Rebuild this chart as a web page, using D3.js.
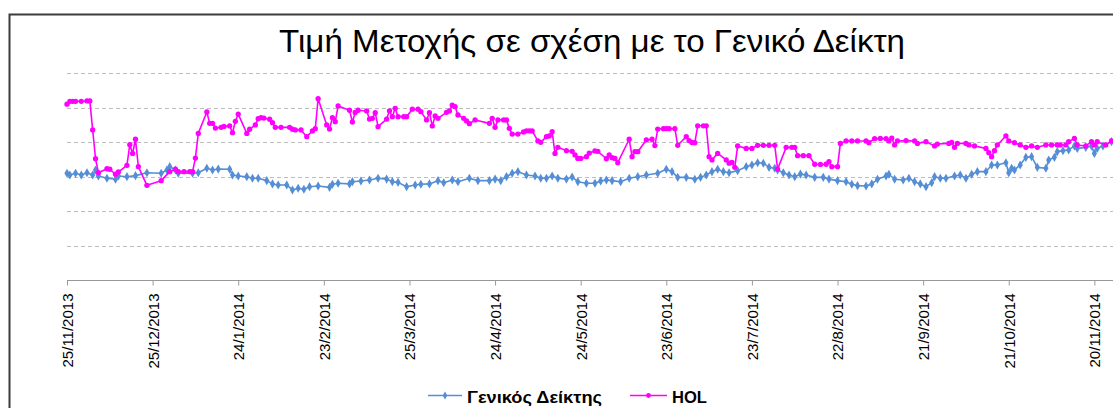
<!DOCTYPE html>
<html>
<head>
<meta charset="utf-8">
<script src="https://cdn.jsdelivr.net/npm/d3@7"></script>
<style>
  html, body { margin: 0; padding: 0; background: #fff; }
  svg { display: block; }
  text { font-family: "Liberation Sans", Arial, sans-serif; }
</style>
</head>
<body>
<svg id="chart" width="1113" height="408"></svg>
<script>
// ---------------- DATA ----------------
const title = "Τιμή Μετοχής σε σχέση με το Γενικό Δείκτη";
const seriesNames = ["Γενικός Δείκτης", "HOL"];
const startDate = "25/11/2013";
const endDate = "26/11/2014";
const tickLabels = ["25/11/2013","25/12/2013","24/1/2014","23/2/2014","25/3/2014","24/4/2014",
  "24/5/2014","23/6/2014","23/7/2014","22/8/2014","21/9/2014","21/10/2014","20/11/2014"];
const gridValues = [20, 40, 60, 80, 100, 120];
const yDomain = [0, 120];

// [days since 25/11/2013, value]
const genIndex = [
[0,61.9],[1,60.9],[3,61.9],[5,60.9],[7,62.2],[9,60.9],[10,63.8],[11,60.3],[14,59.0],[17,58.4],
[18,60.3],[21,59.9],[24,60.5],[28,62.2],[33,61.9],[35,63.8],[36,65.7],[38,63.8],[39,61.9],[44,61.9],
[46,62.2],[49,64.8],[51,63.8],[53,64.3],[57,64.2],[58,60.9],[60,60.3],[63,59.9],[65,59.0],[67,59.0],
[70,57.6],[72,55.7],[74,55.1],[77,55.1],[79,52.2],[81,53.2],[83,52.6],[85,54.1],[88,54.5],[92,53.7],
[93,55.5],[95,56.1],[99,55.7],[100,57.0],[103,57.4],[106,58.0],[109,59.0],[112,58.5],[114,57.0],[116,56.6],
[119,54.1],[122,55.1],[124,55.5],[127,55.7],[130,57.6],[132,56.4],[135,58.0],[137,57.0],[141,59.0],[144,57.6],
[148,57.6],[150,58.5],[152,57.6],[154,59.9],[156,61.9],[158,62.8],[161,60.9],[164,60.3],[166,59.0],[168,59.0],
[170,60.3],[172,59.0],[175,58.5],[177,59.7],[179,57.0],[182,56.1],[185,56.1],[187,57.4],[189,58.0],[191,57.6],
[194,57.0],[197,59.0],[200,59.9],[203,60.9],[207,61.9],[210,64.2],[212,62.8],[214,59.5],[217,59.5],[220,58.4],
[222,59.5],[224,60.9],[226,62.8],[228,64.2],[230,62.8],[232,62.2],[235,63.4],[238,65.7],[240,66.7],[242,68.0],
[244,67.7],[246,65.3],[248,64.8],[249,63.8],[251,62.2],[253,60.9],[255,59.9],[257,61.4],[259,60.9],[262,59.5],
[265,59.5],[267,58.5],[270,57.6],[273,57.0],[275,55.5],[277,54.7],[280,54.5],[282,55.7],[284,58.4],[287,60.3],
[288,61.3],[290,58.4],[293,58.0],[295,59.0],[297,57.0],[299,55.7],[301,54.1],[303,56.4],[304,59.9],[306,59.0],
[308,59.0],[311,60.3],[313,60.9],[315,59.0],[317,61.3],[319,62.8],[322,62.8],[324,66.7],[326,66.7],[329,68.0],
[330,62.2],[331,64.8],[332,63.8],[334,66.7],[336,71.1],[338,71.5],[340,65.3],[343,64.8],[344,69.6],[346,71.1],
[347,74.4],[349,75.0],[351,75.4],[353,77.7],[354,76.3],[357,76.9],[359,77.7],[360,73.4],[361,76.3],[363,77.7],
[366,80.2]
];

const hol = [
[0,101.9],[1,103.6],[2,103.6],[3,103.6],[5,103.6],[7,103.8],[8,103.8],[9,87.0],[10,70.3],[11,62.2],
[14,64.5],[15,64.2],[17,61.3],[18,62.6],[21,66.5],[22,78.4],[23,73.4],[24,81.6],[25,65.7],[28,54.9],
[33,57.6],[36,62.8],[38,64.3],[39,62.8],[41,62.8],[43,62.8],[44,62.8],[45,70.7],[46,85.0],[49,97.4],
[50,90.8],[51,90.8],[52,88.1],[54,88.5],[55,89.0],[57,89.3],[58,85.4],[59,92.0],[60,96.2],[63,85.0],
[64,87.4],[66,89.9],[67,93.5],[68,94.1],[69,93.9],[71,93.2],[72,91.2],[73,88.5],[75,88.5],[78,88.5],
[79,87.4],[80,87.0],[82,87.0],[84,83.1],[86,86.4],[87,87.7],[88,105.1],[91,89.9],[92,87.5],[93,94.1],
[94,91.8],[95,100.9],[99,98.4],[100,91.6],[101,97.1],[102,98.4],[105,98.0],[106,93.3],[107,93.7],[108,97.0],
[109,88.9],[112,93.3],[113,98.1],[114,94.7],[115,99.5],[116,94.7],[118,94.7],[119,94.7],[121,99.0],[123,99.0],
[124,97.6],[126,92.8],[127,97.0],[128,89.3],[129,95.1],[130,93.7],[133,97.2],[134,98.0],[135,101.3],[136,100.5],
[137,95.7],[139,93.7],[140,92.2],[141,90.6],[143,92.8],[148,90.8],[149,93.7],[150,88.5],[151,92.8],[153,92.8],
[154,92.8],[155,87.9],[156,84.6],[158,84.6],[160,85.8],[161,86.5],[162,86.5],[163,86.4],[165,80.6],[166,79.8],
[168,83.1],[169,83.5],[170,86.0],[171,73.4],[172,76.9],[175,75.0],[177,74.6],[178,72.5],[179,70.5],[180,70.5],
[182,71.5],[183,73.6],[185,74.8],[186,74.6],[189,70.3],[190,72.5],[191,70.9],[192,70.5],[193,68.0],[197,81.6],
[198,71.5],[199,74.4],[200,74.4],[203,81.2],[205,81.6],[206,77.9],[207,87.5],[209,87.7],[210,87.7],[211,87.7],
[213,87.7],[214,78.1],[217,83.1],[218,80.8],[219,79.7],[220,79.6],[221,89.4],[223,89.4],[224,89.4],[225,71.5],
[226,69.6],[228,73.4],[231,69.6],[232,67.7],[233,68.2],[234,65.3],[235,77.7],[238,76.3],[240,76.3],[242,78.1],
[244,78.1],[246,78.1],[248,78.1],[249,64.3],[252,76.9],[254,76.9],[255,76.9],[256,72.1],[258,72.1],[260,72.1],
[262,67.1],[264,67.0],[266,67.1],[267,68.6],[268,65.7],[270,65.7],[271,79.2],[273,80.6],[275,80.6],[277,80.6],
[280,80.6],[281,79.6],[283,81.9],[285,82.1],[287,81.9],[288,80.6],[289,82.3],[290,78.3],[291,80.6],[294,80.8],
[297,80.6],[298,79.2],[301,80.2],[304,77.7],[305,78.8],[309,79.2],[310,79.8],[311,76.9],[312,79.2],[315,79.2],
[316,78.3],[318,77.7],[322,76.3],[323,73.8],[324,71.5],[325,75.0],[326,78.3],[329,83.5],[330,80.6],[332,79.6],
[334,78.3],[336,76.9],[338,77.7],[340,76.9],[343,78.3],[345,78.3],[347,78.3],[348,78.3],[350,78.3],[351,80.2],
[353,82.1],[354,78.3],[357,77.7],[359,80.2],[360,78.3],[361,80.2],[364,78.3],[366,80.6]
];

// ---------------- DRAW ----------------
const svg = d3.select("#chart");
const W = 1113, H = 408;
const plot = { left: 67, right: 1111.5, top: 73, bottom: 280 };
const colors = { gen: "#558ED5", hol: "#FF00FF" };

const parse = d3.timeParse("%d/%m/%Y");
const t0 = parse(startDate);
const toDate = d => d3.timeDay.offset(t0, d);

const x = d3.scaleTime().domain([t0, parse(endDate)]).range([plot.left, plot.right]);
const y = d3.scaleLinear().domain(yDomain).range([plot.bottom, plot.top]);

svg.append("rect").attr("width", W).attr("height", H).attr("fill", "#fff");

// outer frame (left and top edges visible)
svg.append("path")
  .attr("d", `M9.5,${H} V14.5 H${W}`)
  .attr("fill", "none").attr("stroke", "#3c3c3c").attr("stroke-width", 2);

// title
svg.append("text")
  .attr("x", 592).attr("y", 52)
  .attr("text-anchor", "middle")
  .attr("font-size", 32)
  .attr("textLength", 626).attr("lengthAdjust", "spacingAndGlyphs")
  .attr("fill", "#000")
  .text(title);

// gridlines
svg.append("g").selectAll("line").data(gridValues).join("line")
  .attr("x1", plot.left).attr("x2", W)
  .attr("y1", d => Math.round(y(d)) + 0.5).attr("y2", d => Math.round(y(d)) + 0.5)
  .attr("stroke", "#BDBDBD").attr("stroke-width", 1).attr("stroke-dasharray", "4,3");

// x axis
const xAxis = d3.axisBottom(x)
  .tickValues(tickLabels.map(parse))
  .tickFormat(d3.timeFormat("%-d/%-m/%Y"))
  .tickSize(5).tickSizeOuter(0);

const gx = svg.append("g")
  .attr("transform", `translate(0,${plot.bottom + 0.5})`)
  .call(xAxis);
gx.select(".domain").attr("stroke", "#999").attr("d", `M${plot.left},0H${W}`);
gx.selectAll(".tick line").attr("stroke", "#999");
gx.selectAll(".tick text")
  .attr("transform", "rotate(-90)")
  .attr("x", -13).attr("y", 0).attr("dy", "0.36em")
  .style("text-anchor", "end")
  .attr("font-size", 15)
  .attr("font-family", "'Liberation Sans', Arial, sans-serif")
  .attr("fill", "#000");

// series
const line = d3.line().x(d => x(toDate(d[0]))).y(d => y(d[1]));

function drawSeries(data, color, shape) {
  const g = svg.append("g");
  g.append("path").datum(data)
    .attr("d", line).attr("fill", "none")
    .attr("stroke", color).attr("stroke-width", 1.6).attr("stroke-linejoin", "round");
  const sym = d3.symbol().type(shape).size(shape === d3.symbolDiamond ? 24 : 22);
  g.selectAll("path.m").data(data).join("path")
    .attr("class", "m")
    .attr("transform", d => `translate(${x(toDate(d[0]))},${y(d[1])})`)
    .attr("d", sym).attr("fill", color);
}
drawSeries(genIndex, colors.gen, d3.symbolDiamond);
drawSeries(hol, colors.hol, d3.symbolCircle);

// legend
const legendItems = [
  { name: seriesNames[0], color: colors.gen, shape: d3.symbolDiamond, x0: 428, x1: 462, w: 135 },
  { name: seriesNames[1], color: colors.hol, shape: d3.symbolCircle, x0: 630, x1: 667, w: 35 }
];
const lg = svg.append("g");
legendItems.forEach(it => {
  const ly = 395.5;
  lg.append("line").attr("x1", it.x0).attr("x2", it.x1).attr("y1", ly).attr("y2", ly)
    .attr("stroke", it.color).attr("stroke-width", 1.6);
  lg.append("path").attr("transform", `translate(${(it.x0 + it.x1) / 2},${ly})`)
    .attr("d", d3.symbol().type(it.shape).size(18)).attr("fill", it.color);
  lg.append("text").attr("x", it.x1 + 5).attr("y", 403)
    .attr("font-size", 17).attr("font-weight", "bold").attr("fill", "#000")
    .attr("textLength", it.w).attr("lengthAdjust", "spacingAndGlyphs")
    .text(it.name);
});
</script>
</body>
</html>
